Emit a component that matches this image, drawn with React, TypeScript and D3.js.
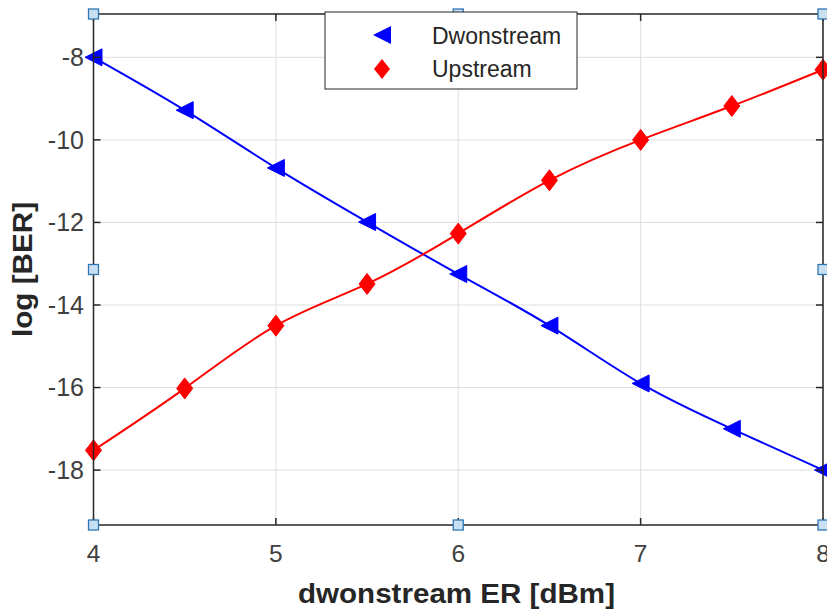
import React from "react";
import * as d3 from "d3";

// Extinction ratio sweep (dB) and the measured log10(BER) for each link direction
const erValues = [4, 4.5, 5, 5.5, 6, 6.5, 7, 7.5, 8];
const downstreamBer = [-8, -9.28, -10.68, -11.99, -13.25, -14.5, -15.9, -17.0, -18];
const upstreamBer = [-17.52, -16.02, -14.5, -13.49, -12.27, -10.98, -10.0, -9.18, -8.3];
const xTicks = [4, 5, 6, 7, 8];
const yTicks = [-8, -10, -12, -14, -16, -18];
const seriesNames = ["Dwonstream", "Upstream"];

const W = 827;
const H = 612;
const left = 93.5;
const right = 823;
const top = 14;
const bottom = 525;

const font = "'Liberation Sans', Arial, Helvetica, sans-serif";
const axisColor = "#262626";
const tickColor = "#404040";

export default function App() {
  const x = d3.scaleLinear().domain([4, 8]).range([left, right]);
  const y = d3.scaleLinear().domain([-19.33, -6.95]).range([bottom, top]);

  const line = d3
    .line<number>()
    .x((_, i) => x(erValues[i]))
    .y((d) => y(d))
    .curve(d3.curveNatural);

  const tri = (cx: number, cy: number, s = 8.5) =>
    `M${cx - s},${cy} L${cx + s},${cy - s} L${cx + s},${cy + s} Z`;
  const diamond = (cx: number, cy: number, w = 8, h = 10.5) =>
    `M${cx},${cy - h} L${cx + w},${cy} L${cx},${cy + h} L${cx - w},${cy} Z`;

  const midX = (left + right) / 2;
  const midY = (top + bottom) / 2;
  const handles = [
    [left, top],
    [midX, top],
    [right, top],
    [left, midY],
    [right, midY],
    [left, bottom],
    [midX, bottom],
    [right, bottom],
  ];

  const legend = { x0: 325, y0: 12, x1: 577, y1: 89 };

  return (
    <div style={{ position: "fixed", left: 0, top: 0 }}>
      <svg width={W} height={H} style={{ display: "block", background: "#fff" }}>
        {/* grid */}
        {xTicks.map((t) => (
          <line key={"gx" + t} x1={x(t)} x2={x(t)} y1={top} y2={bottom} stroke="#dedede" strokeWidth={1} />
        ))}
        {yTicks.map((t) => (
          <line key={"gy" + t} x1={left} x2={right} y1={y(t)} y2={y(t)} stroke="#dedede" strokeWidth={1} />
        ))}

        {/* series */}
        <path d={line(downstreamBer) || ""} fill="none" stroke="#0000ff" strokeWidth={2} />
        <path d={line(upstreamBer) || ""} fill="none" stroke="#ff0000" strokeWidth={2} />
        {downstreamBer.map((v, i) => (
          <path key={"d" + i} d={tri(x(erValues[i]), y(v))} fill="#0000ff" stroke="#0000ff" strokeWidth={1} />
        ))}
        {upstreamBer.map((v, i) => (
          <path key={"u" + i} d={diamond(x(erValues[i]), y(v))} fill="#ff0000" stroke="#ff0000" strokeWidth={1} />
        ))}

        {/* axes box */}
        <rect x={left} y={top} width={right - left} height={bottom - top} fill="none" stroke={axisColor} strokeWidth={1.5} />
        {xTicks.map((t) => (
          <g key={"tx" + t}>
            <line x1={x(t)} x2={x(t)} y1={bottom} y2={bottom - 7} stroke={axisColor} strokeWidth={1.5} />
            <line x1={x(t)} x2={x(t)} y1={top} y2={top + 7} stroke={axisColor} strokeWidth={1.5} />
            <text x={x(t)} y={562} textAnchor="middle" fontFamily={font} fontSize={24.5} fill={tickColor}>
              {t}
            </text>
          </g>
        ))}
        {yTicks.map((t) => (
          <g key={"ty" + t}>
            <line x1={left} x2={left + 7} y1={y(t)} y2={y(t)} stroke={axisColor} strokeWidth={1.5} />
            <line x1={right} x2={right - 7} y1={y(t)} y2={y(t)} stroke={axisColor} strokeWidth={1.5} />
            <text x={84} y={y(t) + 8.8} textAnchor="end" fontFamily={font} fontSize={25} fill={tickColor}>
              {t}
            </text>
          </g>
        ))}

        {/* axis titles */}
        <text
          x={298}
          y={603}
          textLength={317}
          lengthAdjust="spacingAndGlyphs"
          fontFamily={font}
          fontSize={27}
          fontWeight="bold"
          fill={axisColor}
        >
          dwonstream ER [dBm]
        </text>
        <text
          transform={`translate(31.5,337) rotate(-90)`}
          textLength={135}
          lengthAdjust="spacingAndGlyphs"
          fontFamily={font}
          fontSize={28}
          fontWeight="bold"
          fill={axisColor}
        >
          log [BER]
        </text>

        {/* selection handles */}
        {handles.map(([hx, hy], i) => (
          <rect key={"h" + i} x={hx - 5} y={hy - 5} width={10} height={10} fill="#c9e0f2" stroke="#2e77b5" strokeWidth={1.3} />
        ))}

        {/* legend */}
        <rect
          x={legend.x0}
          y={legend.y0}
          width={legend.x1 - legend.x0}
          height={legend.y1 - legend.y0}
          fill="#fff"
          stroke={axisColor}
          strokeWidth={1}
        />
        <path d={tri(382, 35, 9)} fill="#0000ff" />
        <path d={diamond(382, 69, 8, 10)} fill="#ff0000" />
        <text x={432} y={44} fontFamily={font} fontSize={23} fill={axisColor}>
          {seriesNames[0]}
        </text>
        <text x={432} y={77} fontFamily={font} fontSize={23} fill={axisColor}>
          {seriesNames[1]}
        </text>
      </svg>
    </div>
  );
}
